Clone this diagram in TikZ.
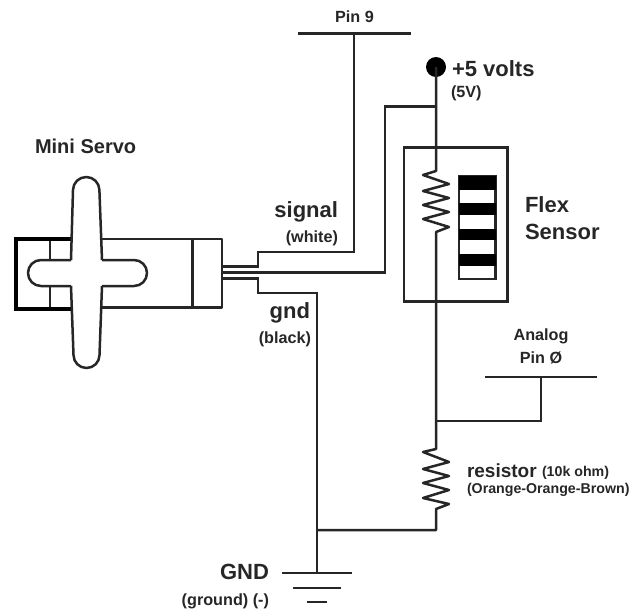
\documentclass[tikz,border=0pt]{standalone}
\usepackage{fontspec}
\setmainfont{Liberation Sans}
\definecolor{ink}{HTML}{262626}
\tikzset{
  wire/.style={draw=ink,line width=2.5pt,line join=miter},
  zig/.style={draw=ink,line width=2.5pt,line join=round},
  outline/.style={draw=ink,line width=2.5pt,line join=round},
  thickbar/.style={draw=black,line width=4pt,line join=miter},
  barline/.style={draw=ink,line width=2.8pt},
  lab/.style={inner sep=0pt,outer sep=0pt,text=ink,align=center},
  fa/.style={lab,font=\fontsize{22}{26}\selectfont\bfseries},
  fb/.style={lab,font=\fontsize{20}{24}\selectfont\bfseries},
  fc/.style={lab,font=\fontsize{19}{23}\selectfont\bfseries},
  fd/.style={lab,font=\fontsize{16.2}{19}\selectfont\bfseries},
  fe/.style={lab,font=\fontsize{14.2}{17}\selectfont\bfseries},
}
\begin{document}
\begin{tikzpicture}[x=1pt,y=-1pt]
\useasboundingbox (0,0) rectangle (643,611);
% named points
\coordinate (servoA) at (222,266.7);
\coordinate (servoB) at (222,272.7);
\coordinate (servoC) at (222,278.7);
\coordinate (pinNine) at (354,33.5);
\coordinate (pinL) at (298,33.5);
\coordinate (pinR) at (411,33.5);
\coordinate (fivejoin) at (436,106.7);
\coordinate (ajoin) at (436,421);
\coordinate (atop) at (541,377);
\coordinate (aL) at (485,377);
\coordinate (aR) at (597,377);
\coordinate (gtop) at (317,573);
\coordinate (gjoin) at (317,530);
\coordinate (rtwoBot) at (436,530);
% servo
\draw[outline] (102,239) -- (222,239) -- (222,307.5) -- (102,307.5);
\draw[outline] (192.5,239) -- (192.5,307.5);
\draw[outline] (50,239) -- (50,260) (50,286) -- (50,307.5);
\draw[thickbar] (71,239) -- (15.5,239) -- (15.5,309) -- (71,309);
\draw[outline] (71,260) -- (41,260) .. controls (33.8,260) and (28,265.8) .. (28,273) .. controls (28,280.2) and (33.8,286) .. (41,286) -- (71,286)
  (102,260) -- (134,260) .. controls (141.2,260) and (147,265.8) .. (147,273) .. controls (147,280.2) and (141.2,286) .. (134,286) -- (102,286);
\draw[outline] (71,260) -- (73,190) .. controls (73,182.8) and (79,177) .. (86.2,177) .. controls (93.4,177) and (99.4,182.8) .. (99.4,190) -- (102,260);
\draw[outline] (71,286) -- (73.5,355) .. controls (73.5,362.2) and (79.3,368) .. (86.5,368) .. controls (93.7,368) and (99.5,362.2) .. (99.5,355) -- (102,286);
% wires
\draw[wire] (servoA) -- (258,266.7) -- (258,252) -- (354,252) -- (pinNine);
\draw[wire] (servoB) -- (385,272.7) -- (385,106.7) -- (fivejoin);
\draw[wire] (servoC) -- (258,278.7) -- (258,293) -- (317,293) -- (gtop);
\draw[barline] (pinL) -- (pinR);
% +5
\node[circle,fill=black,minimum size=20pt,inner sep=0pt] (vcc) at (436,67) {};
% flex box
\node[draw=ink,line width=2.5pt,minimum width=103.7pt,minimum height=154pt,inner sep=0pt] (flexbox) at (455.8,224.7) {};
% flex resistor and wire
\coordinate (rtop) at (436,171);
\draw[zig] (vcc.center) -- (rtop) -- (423,175) -- (449,184) -- (423,191) -- (449,198) -- (423,205) -- (449,212) -- (423,219) -- (449,227) -- (436,232) -- (ajoin);
% lower resistor
\draw[zig] (ajoin) -- (436,449) -- (423,452) -- (449,462) -- (423,469) -- (449,476) -- (423,483) -- (449,490) -- (423,498) -- (449,504) -- (436,509) -- (rtwoBot) -- (gjoin);
% analog
\draw[wire] (ajoin) -- (541,421) -- (atop);
\draw[barline] (aL) -- (aR);
% flex strip
\node[draw=ink,line width=2.4pt,minimum width=36.5pt,minimum height=103pt,inner sep=0pt] (strip) at (477.3,227.5) {};
\fill[black] (459,176) rectangle (495.5,190);
\fill[black] (459,203) rectangle (495.5,214.5);
\fill[black] (459,228.5) rectangle (495.5,240);
\fill[black] (459,254) rectangle (495.5,266);
% ground
\draw[barline] (282,573) -- (352,573);
\draw[barline] (293,588) -- (341,588);
\draw[barline] (307,602) -- (327,602);
% text
\node[fd,anchor=base] (tpin) at (354.5,22) {Pin 9};
\node[fa,anchor=base west] (tvolts) at (452,76) {+5 volts};
\node[fd,anchor=base west] (tfive) at (451,97.5) {(5V)};
\node[fb,anchor=base west] (tservo) at (35,153.5) {Mini Servo};
\node[fa,anchor=base west] (tflex) at (525,212) {Flex};
\node[fa,anchor=base west] (tsens) at (525,239) {Sensor};
\node[fa,anchor=base east] (tsig) at (338,217) {signal};
\node[fd,anchor=base east] (twhite) at (338,242) {(white)};
\node[fa,anchor=base east] (tgnd) at (310,318) {gnd};
\node[fd,anchor=base east] (tblack) at (311,343) {(black)};
\node[fd,anchor=base] (tana) at (541,340) {Analog};
\node[fd,anchor=base] (tpino) at (541,363) {Pin Ø};
\node[fc,anchor=base west] (tres) at (467,477) {resistor};
\node[fe,anchor=base west] (tohm) at (542,476) {(10k ohm)};
\node[fe,anchor=base west] (tcode) at (467,493) {(Orange-Orange-Brown)};
\node[fa,anchor=base east] (tgd) at (269,579) {GND};
\node[fd,anchor=base east] (tground) at (269,605) {(ground) (-)};
\end{tikzpicture}
\end{document}
